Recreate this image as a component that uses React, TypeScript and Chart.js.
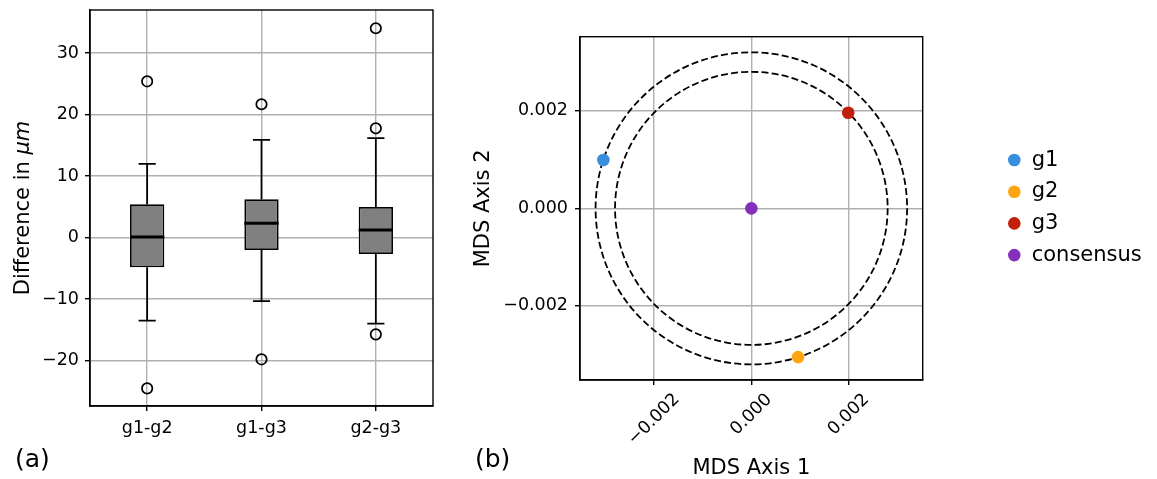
import React, { useEffect, useRef } from 'react';
import { Chart, registerables } from 'chart.js';

Chart.register(...registerables);

// ---------- Panel (a): box plot data ----------
const categories = ['g1-g2', 'g1-g3', 'g2-g3'];
const q1 = [-4.85, -2.03, -2.68];
const q3 = [5.4, 6.21, 4.96];
const medians = [0.08, 2.31, 1.22];
const whiskerLow = [-13.53, -10.33, -14.02];
const whiskerHigh = [11.96, 15.86, 16.18];
const outliers = [
  [25.4, -24.53],
  [21.67, -19.81],
  [34.03, 17.76, -15.75],
];
const diffTicks = [-20, -10, 0, 10, 20, 30];
const diffMin = -27.4;
const diffMax = 37.0;

// ---------- Panel (b): MDS data ----------
const groups = ['g1', 'g2', 'g3', 'consensus'];
const mdsX = [-0.00304, 0.00096, 0.00199, 0];
const mdsY = [0.00099, -0.00305, 0.00196, 0];
const groupColors = ['#3a8ee0', '#ffa511', '#c0200a', '#8530bd'];
const circleRadii = [0.0032, 0.0028];
const mdsTicks = [-0.002, 0, 0.002];
const mdsLimit = 0.00352;

const FAMILY = '"DejaVu Sans", sans-serif';
const TICK_SIZE = 17.5;
const LABEL_SIZE = 21;
const PANEL_SIZE = 25;
const GRID = '#b0b0b0';

const minus = (s: string) => s.replace('-', '\u2212');
const fmtInt = (v: number) => minus(String(v));
const fmt3 = (v: number) => minus((Math.abs(v) < 1e-12 ? 0 : v).toFixed(3));

const zeroPad = (s: any) => {
  s.paddingTop = 0;
  s.paddingBottom = 0;
  s.paddingLeft = 0;
  s.paddingRight = 0;
};

const framePlugin = {
  id: 'frame',
  afterDraw(chart: any) {
    const { ctx, chartArea: a } = chart;
    ctx.save();
    ctx.strokeStyle = '#000';
    ctx.lineWidth = 1.4;
    ctx.strokeRect(a.left, a.top, a.right - a.left, a.bottom - a.top);
    ctx.restore();
  },
};

const boxPlugin = {
  id: 'boxExtras',
  afterDatasetsDraw(chart: any) {
    const { ctx } = chart;
    const ys = chart.scales.y;
    const meta = chart.getDatasetMeta(0);
    ctx.save();
    ctx.strokeStyle = '#000';
    categories.forEach((_, i) => {
      const bar = meta.data[i];
      if (!bar) return;
      const cx = bar.x;
      const w = bar.width;
      ctx.lineWidth = 1.75;
      ctx.beginPath();
      ctx.moveTo(cx, ys.getPixelForValue(q3[i]));
      ctx.lineTo(cx, ys.getPixelForValue(whiskerHigh[i]));
      ctx.moveTo(cx, ys.getPixelForValue(q1[i]));
      ctx.lineTo(cx, ys.getPixelForValue(whiskerLow[i]));
      ctx.moveTo(cx - w / 4, ys.getPixelForValue(whiskerHigh[i]));
      ctx.lineTo(cx + w / 4, ys.getPixelForValue(whiskerHigh[i]));
      ctx.moveTo(cx - w / 4, ys.getPixelForValue(whiskerLow[i]));
      ctx.lineTo(cx + w / 4, ys.getPixelForValue(whiskerLow[i]));
      ctx.stroke();
      ctx.lineWidth = 3;
      ctx.beginPath();
      ctx.moveTo(cx - w / 2, ys.getPixelForValue(medians[i]));
      ctx.lineTo(cx + w / 2, ys.getPixelForValue(medians[i]));
      ctx.stroke();
    });
    ctx.restore();
  },
};

const boxTextPlugin = {
  id: 'boxText',
  afterDraw(chart: any) {
    const { ctx, chartArea: a } = chart;
    ctx.save();
    ctx.fillStyle = '#000';
    const p1 = 'Difference in ';
    const p2 = '\u03bcm';
    ctx.font = `${LABEL_SIZE}px ${FAMILY}`;
    const w1 = ctx.measureText(p1).width;
    ctx.font = `italic ${LABEL_SIZE}px ${FAMILY}`;
    const w2 = ctx.measureText(p2).width;
    ctx.translate(28.6, (a.top + a.bottom) / 2);
    ctx.rotate(-Math.PI / 2);
    ctx.textBaseline = 'alphabetic';
    ctx.textAlign = 'left';
    const x0 = -(w1 + w2) / 2;
    ctx.font = `${LABEL_SIZE}px ${FAMILY}`;
    ctx.fillText(p1, x0, 0);
    ctx.font = `italic ${LABEL_SIZE}px ${FAMILY}`;
    ctx.fillText(p2, x0 + w1, 0);
    ctx.restore();
    ctx.save();
    ctx.fillStyle = '#000';
    ctx.font = `${PANEL_SIZE}px ${FAMILY}`;
    ctx.textBaseline = 'alphabetic';
    ctx.textAlign = 'left';
    ctx.fillText('(a)', 15, 467);
    ctx.restore();
  },
};

const circlePlugin = {
  id: 'circles',
  beforeDatasetsDraw(chart: any) {
    const { ctx, chartArea: a } = chart;
    const xs = chart.scales.x;
    const ys = chart.scales.y;
    const cx = xs.getPixelForValue(mdsX[3]);
    const cy = ys.getPixelForValue(mdsY[3]);
    ctx.save();
    ctx.beginPath();
    ctx.rect(a.left, a.top, a.right - a.left, a.bottom - a.top);
    ctx.clip();
    ctx.strokeStyle = '#000';
    ctx.lineWidth = 1.8;
    ctx.setLineDash([7, 3.2]);
    circleRadii.forEach((r) => {
      const rx = Math.abs(xs.getPixelForValue(mdsX[3] + r) - cx);
      const ry = Math.abs(ys.getPixelForValue(mdsY[3] + r) - cy);
      ctx.beginPath();
      ctx.ellipse(cx, cy, rx, ry, 0, 0, Math.PI * 2);
      ctx.stroke();
    });
    ctx.restore();
  },
};

const mdsTextPlugin = {
  id: 'mdsText',
  afterDraw(chart: any) {
    const { ctx, chartArea: a } = chart;
    const xs = chart.scales.x;
    ctx.save();
    ctx.fillStyle = '#000';
    ctx.font = `${TICK_SIZE}px ${FAMILY}`;
    const capH = TICK_SIZE * 0.73;
    mdsTicks.forEach((v) => {
      const txt = fmt3(v);
      const w = ctx.measureText(txt).width * 0.96;
      const px = xs.getPixelForValue(v);
      const cy = a.bottom + 13 + (w + capH) * 0.3536;
      ctx.save();
      ctx.translate(px, cy);
      ctx.rotate(-Math.PI / 4);
      ctx.textAlign = 'center';
      ctx.textBaseline = 'middle';
      ctx.fillText(txt, 0, 0);
      ctx.restore();
    });
    ctx.font = `${LABEL_SIZE}px ${FAMILY}`;
    ctx.textAlign = 'center';
    ctx.textBaseline = 'alphabetic';
    ctx.fillText('MDS Axis 1', (a.left + a.right) / 2, 474);
    ctx.save();
    ctx.translate(28.6, (a.top + a.bottom) / 2);
    ctx.rotate(-Math.PI / 2);
    ctx.fillText('MDS Axis 2', 0, 0);
    ctx.restore();
    ctx.font = `${PANEL_SIZE}px ${FAMILY}`;
    ctx.textAlign = 'left';
    ctx.fillText('(b)', 15, 467);
    const ds = chart.data.datasets;
    ctx.font = `${LABEL_SIZE}px ${FAMILY}`;
    ds.forEach((d: any, i: number) => {
      const y = 160 + i * 31.7;
      ctx.beginPath();
      ctx.fillStyle = d.pointBackgroundColor;
      ctx.arc(554.3, y, 6.3, 0, Math.PI * 2);
      ctx.fill();
      ctx.fillStyle = '#000';
      ctx.fillText(d.label, 571.7, y + LABEL_SIZE * 0.2735);
    });
    ctx.restore();
  },
};

const gridOpts = {
  color: GRID,
  lineWidth: 1.4,
  tickColor: '#000',
  tickLength: 5,
  tickWidth: 1.4,
};
const borderOpts = { color: '#000', width: 1.4 };

export default function App() {
  const refA = useRef<HTMLCanvasElement>(null);
  const refB = useRef<HTMLCanvasElement>(null);

  useEffect(() => {
    Chart.defaults.font.family = FAMILY;
    Chart.defaults.color = '#000';

    const outlierPoints: { x: string; y: number }[] = [];
    outliers.forEach((arr, i) => arr.forEach((v) => outlierPoints.push({ x: categories[i], y: v })));

    const chartA = new Chart(refA.current as HTMLCanvasElement, {
      type: 'bar',
      data: {
        labels: categories,
        datasets: [
          {
            type: 'bar',
            data: categories.map((_, i) => [q1[i], q3[i]]) as any,
            backgroundColor: '#808080',
            borderColor: '#000',
            borderWidth: 1.75,
            borderSkipped: false,
            barPercentage: 0.3,
            categoryPercentage: 1,
            order: 2,
          } as any,
          {
            type: 'scatter',
            data: outlierPoints as any,
            pointRadius: 5.2,
            pointBackgroundColor: 'rgba(0,0,0,0)',
            pointBorderColor: '#000',
            pointBorderWidth: 1.75,
            showLine: false,
            order: 1,
          } as any,
        ],
      },
      options: {
        responsive: false,
        animation: false,
        layout: { padding: { left: 0, top: 10, right: 37, bottom: 0 } },
        plugins: { legend: { display: false }, tooltip: { enabled: false } },
        scales: {
          x: {
            type: 'category',
            offset: true,
            grid: { ...gridOpts, offset: false },
            border: borderOpts,
            ticks: { font: { size: TICK_SIZE, family: FAMILY }, color: '#000', padding: 7, maxRotation: 0 },
            afterFit: (s: any) => {
              s.height = 73;
              zeroPad(s);
            },
          } as any,
          y: {
            type: 'linear',
            min: diffMin,
            max: diffMax,
            afterBuildTicks: (s: any) => {
              s.ticks = diffTicks.map((v) => ({ value: v }));
            },
            grid: gridOpts,
            border: borderOpts,
            ticks: {
              font: { size: TICK_SIZE, family: FAMILY, lineHeight: 1 },
              color: '#000',
              padding: 6,
              callback: (v: any) => fmtInt(Number(v)),
            },
            afterFit: (s: any) => {
              s.width = 90;
              zeroPad(s);
            },
          } as any,
        },
      },
      plugins: [boxPlugin, framePlugin, boxTextPlugin],
    });

    const chartB = new Chart(refB.current as HTMLCanvasElement, {
      type: 'scatter',
      data: {
        datasets: groups.map((g, i) => ({
          label: g,
          data: [{ x: mdsX[i], y: mdsY[i] }],
          pointRadius: 6.3,
          pointBackgroundColor: groupColors[i],
          backgroundColor: groupColors[i],
          borderColor: groupColors[i],
          pointBorderWidth: 0,
        })),
      },
      options: {
        responsive: false,
        animation: false,
        layout: { padding: { left: 0, top: 36.7, right: 234.3, bottom: 0 } },
        plugins: { legend: { display: false }, tooltip: { enabled: false } },
        scales: {
          x: {
            type: 'linear',
            min: -mdsLimit,
            max: mdsLimit,
            afterBuildTicks: (s: any) => {
              s.ticks = mdsTicks.map((v) => ({ value: v }));
            },
            grid: gridOpts,
            border: borderOpts,
            ticks: { display: false },
            afterFit: (s: any) => {
              s.height = 99;
              zeroPad(s);
            },
          } as any,
          y: {
            type: 'linear',
            min: -mdsLimit,
            max: mdsLimit,
            afterBuildTicks: (s: any) => {
              s.ticks = mdsTicks.map((v) => ({ value: v }));
            },
            grid: gridOpts,
            border: borderOpts,
            ticks: {
              font: { size: TICK_SIZE, family: FAMILY, lineHeight: 1 },
              color: '#000',
              padding: 7,
              callback: (v: any) => fmt3(Number(v)),
            },
            afterFit: (s: any) => {
              s.width = 120;
              zeroPad(s);
            },
          } as any,
        },
      },
      plugins: [circlePlugin, framePlugin, mdsTextPlugin],
    });

    return () => {
      chartA.destroy();
      chartB.destroy();
    };
  }, []);

  return (
    <div style={{ position: 'fixed', left: 0, top: 0, width: 1157, height: 479, background: '#fff', overflow: 'hidden' }}>
      <canvas ref={refA} width={470} height={479} style={{ position: 'absolute', left: 0, top: 0, width: 470, height: 479 }} />
      <canvas ref={refB} width={697} height={479} style={{ position: 'absolute', left: 460, top: 0, width: 697, height: 479 }} />
    </div>
  );
}
